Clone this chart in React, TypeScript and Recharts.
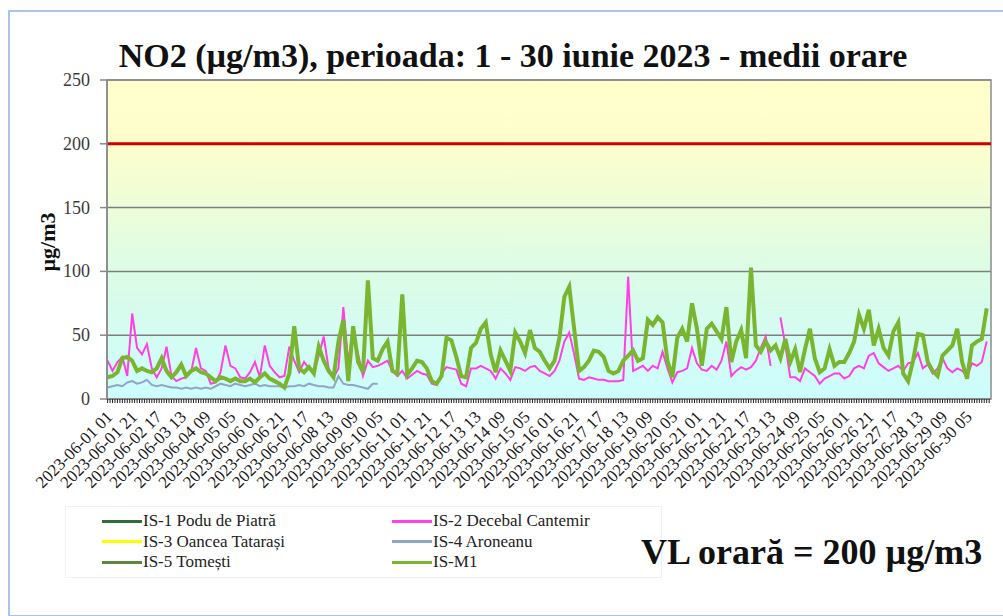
import React from "react";
import { CartesianGrid, Line, LineChart, ReferenceArea, ReferenceLine, XAxis, YAxis } from "recharts";

const STEP_HOURS = 4;
const TOTAL_HOURS = 720;

// IS-2 Decebal Cantemir
const is2 = [
	30, 22, 29, 33, 18, 67, 40, 35, 43, 24, 17, 24, 41, 18, 14, 16, 17, 21, 40, 24,
	22, 12, 13, 21, 42, 26, 24, 17, 16, 21, 29, 17, 42, 26, 21, 17, 18, 41, 30, 21,
	29, 24, 21, 34, 49, 24, 17, 24, 72, 29, 54, 35, 18, 30, 25, 26, 28, 30, 22, 18,
	22, 16, 19, 22, 20, 19, 12, 11, 20, 25, 24, 23, 12, 10, 24, 24, 26, 24, 22, 16,
	24, 20, 15, 25, 24, 22, 25, 26, 22, 20, 18, 22, 30, 45, 52, 35, 16, 15, 17, 16,
	15, 15, 14, 14, 14, 15, 96, 22, 24, 26, 22, 26, 24, 37, 24, 13, 21, 22, 24, 40,
	28, 23, 22, 26, 23, 30, 45, 18, 22, 25, 23, 25, 30, 40, 49, 26, null, 64, 42, 17,
	17, 14, 24, 21, 18, 12, 16, 18, 20, 20, 16, 18, 24, 26, 24, 34, 36, 28, 25, 22,
	24, 26, 22, 28, 29, 36, 24, 27, 20, 24, 32, 24, 21, 24, 22, 18, 28, 26, 29, 45,
];

// IS-4 Aroneanu (stops after ~9 days)
const is4 = [
	9, 10, 11, 10, 13, 14, 12, 13, 15, 11, 10, 11, 10, 9, 9, 8, 9, 8, 9, 8,
	9, 8, 10, 12, 11, 10, 12, 11, 10, 11, 12, 10, 11, 10, 10, 10, 9, 10, 10, 11,
	10, 12, 11, 10, 10, 9, 9, 18, 12, 11, 11, 10, 9, 8, 12, 12,
];

// IS-M1
const isM1 = [
	17, 18, 21, 32, 33, 30, 22, 24, 22, 21, 24, 32, 22, 17, 21, 27, 18, 22, 24, 21,
	20, 17, 14, 17, 16, 14, 16, 14, 14, 16, 13, 17, 20, 16, 14, 12, 9, 20, 57, 24,
	21, 25, 20, 41, 30, 22, 17, 45, 62, 14, 57, 29, 21, 93, 32, 30, 39, 45, 22, 20,
	82, 19, 24, 30, 29, 24, 14, 12, 18, 48, 46, 33, 18, 17, 40, 44, 55, 60, 35, 21,
	38, 30, 22, 52, 45, 36, 54, 40, 37, 30, 24, 30, 48, 80, 88, 55, 22, 25, 30, 38,
	37, 33, 22, 20, 22, 30, 34, 38, 30, 32, 62, 58, 64, 60, 30, 17, 48, 55, 45, 75,
	55, 26, 55, 59, 53, 47, 72, 29, 45, 54, 32, 103, 42, 37, 45, 38, 42, 32, 47, 29,
	39, 21, 39, 55, 32, 21, 24, 39, 26, 29, 29, 36, 45, 66, 55, 70, 42, 55, 40, 34,
	53, 60, 20, 14, 30, 51, 50, 29, 22, 18, 34, 38, 42, 55, 29, 16, 42, 45, 47, 71,
];

const yTicks = [0, 50, 100, 150, 200, 250];
const LABEL_EVERY = 20;
const MINOR_TICK = 2;
const LIMIT = 200;

const legendItems = [
	{ name: "IS-1 Podu de Piatră", color: "#2f6e3c" },
	{ name: "IS-2 Decebal Cantemir", color: "#ff40e6" },
	{ name: "IS-3 Oancea Tatarași", color: "#ffff00" },
	{ name: "IS-4 Aroneanu", color: "#8fa6c6" },
	{ name: "IS-5 Tomești", color: "#5b8a3c" },
	{ name: "IS-M1", color: "#7ab530" },
];

const data = isM1.map((v, i) => ({
	hour: i * STEP_HOURS,
	is2: is2[i],
	is4: i < is4.length ? is4[i] : null,
	m1: v,
}));

const xTicks = Array.from({ length: TOTAL_HOURS / MINOR_TICK }, (_, i) => i * MINOR_TICK);

const pad = (n: number) => String(n).padStart(2, "0");

function hourLabel(h: number) {
	const t = h + 1;
	return `2023-06-${pad(1 + Math.floor(t / 24))} ${pad(t % 24)}`;
}

const serif = "'Liberation Serif', 'Times New Roman', serif";

function DateTick(props: any) {
	const { x, y, payload } = props;
	if (payload.value % LABEL_EVERY !== 0) return <g />;
	return (
		<text
			x={0}
			y={0}
			transform={`translate(${x + 6},${y + 13}) rotate(-45)`}
			textAnchor="end"
			style={{ fontSize: 17, fontFamily: serif, fill: "#1a1a1a" }}
		>
			{hourLabel(payload.value)}
		</text>
	);
}

function ValueTick(props: any) {
	const { x, y, payload } = props;
	return (
		<text x={x} y={y} dy={6} textAnchor="end" style={{ fontSize: 18, fontFamily: serif, fill: "#3a3a3a" }}>
			{payload.value}
		</text>
	);
}

export default function App() {
	return (
		<div style={{ position: "absolute", left: 0, top: 0, width: 1003, height: 616, fontFamily: serif, background: "#fff" }}>
			<div
				style={{
					position: "absolute",
					left: 8,
					top: 10,
					width: 1003,
					height: 603,
					borderTop: "2px solid #a8c6e8",
					borderLeft: "2px solid #a8c6e8",
					borderBottom: "2px solid #a8c6e8",
				}}
			/>
			<div
				style={{
					position: "absolute",
					left: 0,
					top: 39,
					width: 1026,
					textAlign: "center",
					fontSize: 34,
					lineHeight: "34px",
					fontWeight: "bold",
					color: "#111",
				}}
			>
				NO2 (µg/m3), perioada: 1 - 30 iunie 2023 - medii orare
			</div>

			<LineChart
				width={1003}
				height={520}
				data={data}
				margin={{ top: 80, right: 12, bottom: 11, left: 0 }}
				style={{ position: "absolute", left: 0, top: 0 }}
			>
				<defs>
					<linearGradient id="bgGrad" x1="0" y1="0" x2="0" y2="1">
						<stop offset="0%" stopColor="#ffffcc" />
						<stop offset="20%" stopColor="#fdfecc" />
						<stop offset="60%" stopColor="#dcfce6" />
						<stop offset="100%" stopColor="#ccfdfd" />
					</linearGradient>
				</defs>
				<CartesianGrid
					vertical={false}
					stroke="#7f7f7f"
					strokeWidth={1.5}
					fill="url(#bgGrad)"
					fillOpacity={1}
				/>
				<XAxis
					dataKey="hour"
					type="number"
					domain={[-0.5, TOTAL_HOURS - 0.5]}
					ticks={xTicks}
					interval={0}
					height={110}
					tickSize={4}
					tickLine={{ stroke: "#222" }}
					axisLine={{ stroke: "#888", strokeWidth: 1.5 }}
					tick={<DateTick />}
				/>
				<YAxis
					domain={[0, 250]}
					ticks={yTicks}
					width={107}
					tickSize={7}
					tickMargin={10}
					axisLine={{ stroke: "#888", strokeWidth: 1.5 }}
					tickLine={{ stroke: "#888", strokeWidth: 1.5 }}
					tick={<ValueTick />}
				/>
				<ReferenceArea
					x1={-0.5}
					x2={TOTAL_HOURS - 0.5}
					y1={0}
					y2={250}
					fill="none"
					stroke="#8c8c8c"
					strokeWidth={1.5}
				/>
				<ReferenceLine y={LIMIT} stroke="#cc0000" strokeWidth={3} />
				<Line dataKey="is4" stroke="#8fa6c6" strokeWidth={2} dot={false} isAnimationActive={false} />
				<Line dataKey="is2" stroke="#ff40e6" strokeWidth={2} dot={false} isAnimationActive={false} />
				<Line dataKey="m1" stroke="#7ab530" strokeWidth={4} dot={false} isAnimationActive={false} />
			</LineChart>

			<div
				style={{
					position: "absolute",
					left: 48,
					top: 242,
					transform: "translate(-50%, -50%) rotate(-90deg)",
					fontSize: 22,
					fontWeight: "bold",
					whiteSpace: "nowrap",
					color: "#111",
				}}
			>
				µg/m3
			</div>

			<div
				style={{
					position: "absolute",
					left: 65,
					top: 506,
					width: 595,
					height: 70,
					border: "1px solid #f0f0f0",
				}}
			>
				<div
					style={{
						position: "absolute",
						left: 36,
						top: 4,
						display: "grid",
						gridTemplateColumns: "290px 240px",
					}}
				>
					{legendItems.map((it) => (
						<div key={it.name} style={{ display: "flex", alignItems: "center", height: 20.5 }}>
							<span style={{ width: 40, height: 3, background: it.color, display: "inline-block" }} />
							<span style={{ fontSize: 17, color: "#222", whiteSpace: "nowrap", marginLeft: 1 }}>{it.name}</span>
						</div>
					))}
				</div>
			</div>

			<div
				style={{
					position: "absolute",
					left: 641,
					top: 534,
					fontSize: 36,
					lineHeight: "36px",
					fontWeight: "bold",
					whiteSpace: "nowrap",
					color: "#111",
				}}
			>
				VL orară = 200 µg/m3
			</div>
		</div>
	);
}
